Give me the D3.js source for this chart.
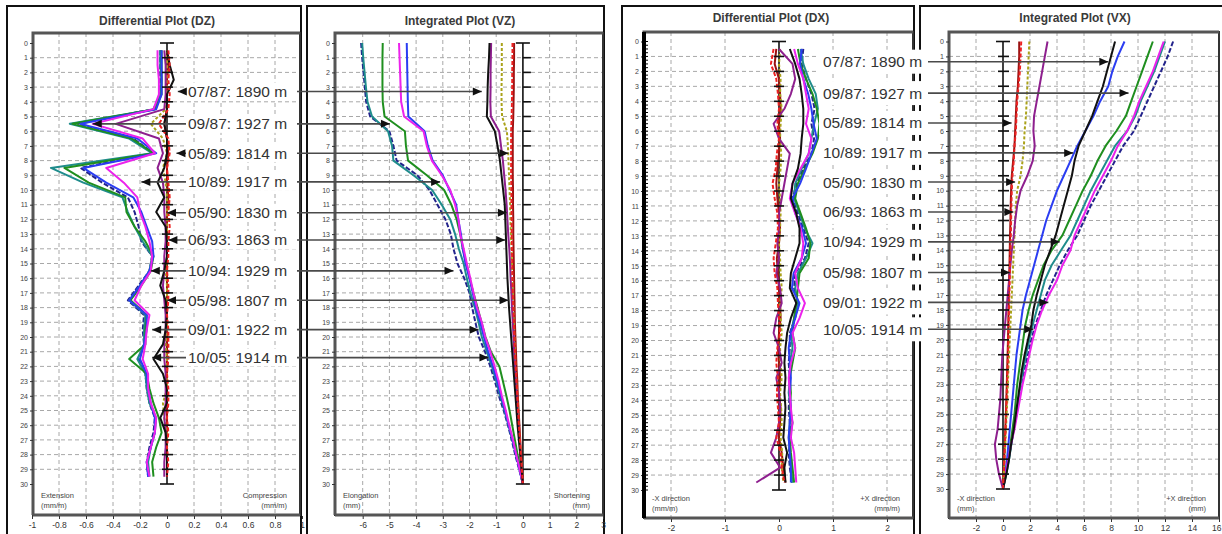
<!DOCTYPE html>
<html>
<head>
<meta charset="utf-8">
<script src="https://cdn.jsdelivr.net/npm/d3@7"></script>
<style>
  body { margin: 0; background: #fff; }
  svg { display: block; font-family: "Liberation Sans", Arial, sans-serif; }
</style>
</head>
<body>
<svg id="chart" width="1222" height="534"></svg>
<script>
// depth stations (m) - differential readings sit between stations
const diffDepth = [0.5,1.5,2.5,3.5,4.5,5.5,6.5,7.5,8.5,9.5,10.5,11.5,12.5,13.5,14.5,15.5,16.5,17.5,18.5,19.5,20.5,21.5,22.5,23.5,24.5,25.5,26.5,27.5,28.5,29.5];
const intDepth = [0,1,2,3,4,5,6,7,8,9,10,11,12,13,14,15,16,17,18,19,20,21,22,23,24,25,26,27,28,29,30];

// x tick labels
const dzTicks = [-1,-0.8,-0.6,-0.4,-0.2,0,0.2,0.4,0.6,0.8,1];
const vzTicks = [-6,-5,-4,-3,-2,-1,0,1,2,3];
const dxTicks = [-2,-1,0,1,2];
const vxTicks = [-2,0,2,4,6,8,10,12,14,16];

// Differential plot DZ (mm/m)
const dzNavy    = [-0.05,-0.05,-0.05,-0.05,-0.10,-0.66,-0.25,-0.10,-0.64,-0.48,-0.29,-0.24,-0.21,-0.19,-0.11,-0.13,-0.21,-0.29,-0.17,-0.18,-0.17,-0.21,-0.16,-0.15,-0.13,-0.09,-0.10,-0.13,-0.15,-0.14];
const dzTeal    = [-0.05,-0.05,-0.04,-0.05,-0.09,-0.72,-0.28,-0.11,-0.86,-0.62,-0.33,-0.29,-0.24,-0.18,-0.11,-0.13,-0.20,-0.28,-0.16,-0.17,-0.17,-0.22,-0.16,-0.15,-0.13,-0.08,-0.09,-0.12,-0.14,-0.13];
const dzGreen   = [-0.04,-0.04,-0.04,-0.04,-0.09,-0.70,-0.26,-0.10,-0.76,-0.58,-0.31,-0.30,-0.24,-0.16,-0.10,-0.12,-0.19,-0.27,-0.15,-0.16,-0.16,-0.28,-0.15,-0.13,-0.10,-0.06,-0.04,-0.08,-0.11,-0.10];
const dzBlue    = [-0.04,-0.04,-0.04,-0.04,-0.08,-0.64,-0.22,-0.08,-0.62,-0.45,-0.25,-0.19,-0.15,-0.11,-0.10,-0.13,-0.20,-0.28,-0.15,-0.15,-0.17,-0.20,-0.15,-0.14,-0.12,-0.09,-0.09,-0.12,-0.15,-0.14];
const dzMagenta = [-0.07,-0.07,-0.06,-0.06,-0.10,-0.55,-0.18,-0.09,-0.45,-0.32,-0.22,-0.20,-0.16,-0.13,-0.11,-0.12,-0.19,-0.24,-0.13,-0.15,-0.16,-0.18,-0.14,-0.14,-0.12,-0.08,-0.09,-0.12,-0.15,-0.13];
const dzPurple  = [-0.02,-0.01,-0.01,-0.01,-0.02,-0.38,-0.06,-0.03,-0.07,-0.03,-0.02,-0.02,-0.01,-0.01,-0.02,-0.02,-0.03,-0.02,-0.01,-0.01,-0.02,-0.02,-0.01,-0.01,-0.01,-0.02,-0.01,-0.01,-0.02,-0.02];
const dzOlive   = [0.00,0.00,0.00,0.00,-0.01,-0.12,-0.03,0.00,-0.03,-0.01,0.00,0.00,0.00,0.00,0.00,-0.01,0.00,0.00,0.00,0.00,-0.01,0.00,0.00,0.00,-0.03,-0.02,0.00,0.00,0.00,0.00];
const dzRed     = [0.01,0.02,0.01,0.02,0.01,-0.06,0.01,0.02,0.00,0.01,0.02,0.01,0.02,0.01,0.01,0.00,0.01,0.01,0.00,0.01,0.01,0.01,0.00,0.01,0.01,0.00,0.01,0.00,0.01,0.00];
const dzDarkred = [0.00,0.01,0.00,0.00,0.00,-0.02,0.00,0.01,0.00,0.00,0.01,0.00,0.00,0.00,0.00,0.00,0.00,0.00,0.00,0.00,0.00,0.00,0.00,0.00,0.00,0.00,0.00,0.00,0.00,0.00];
const dzBlack   = [0.00,0.02,0.05,0.00,0.00,-0.02,0.00,0.00,-0.02,-0.07,-0.02,-0.08,-0.01,0.00,0.00,-0.02,-0.05,-0.01,0.00,-0.01,-0.03,-0.10,-0.03,0.00,0.00,-0.05,-0.01,0.00,0.00,0.00];

// Integrated plot VZ (mm)
const vzNavy    = [-6.06,-6.02,-5.97,-5.92,-5.87,-5.72,-5.0,-4.85,-4.73,-3.95,-3.5,-3.2,-2.9,-2.7,-2.6,-2.45,-2.2,-2.0,-1.9,-1.78,-1.65,-1.42,-1.22,-1.05,-0.9,-0.72,-0.56,-0.42,-0.29,-0.14,0];
const vzTeal    = [-6.02,-5.98,-5.93,-5.88,-5.82,-5.65,-5.05,-4.9,-4.85,-4.1,-3.4,-3.04,-2.72,-2.54,-2.4,-2.22,-2.1,-1.97,-1.8,-1.66,-1.54,-1.35,-1.16,-1.0,-0.85,-0.69,-0.54,-0.39,-0.25,-0.12,0];
const vzGreen   = [-5.25,-5.26,-5.26,-5.26,-5.25,-5.18,-4.42,-4.38,-4.3,-3.6,-2.95,-2.68,-2.48,-2.35,-2.25,-2.12,-2.0,-1.85,-1.7,-1.55,-1.4,-1.2,-0.88,-0.75,-0.62,-0.5,-0.4,-0.3,-0.2,-0.1,0];
const vzBlue    = [-4.35,-4.34,-4.33,-4.32,-4.31,-4.29,-3.68,-3.56,-3.38,-3.0,-2.75,-2.5,-2.42,-2.32,-2.25,-2.15,-2.0,-1.88,-1.76,-1.6,-1.46,-1.3,-1.12,-0.96,-0.82,-0.67,-0.53,-0.39,-0.26,-0.13,0];
const vzMagenta = [-4.64,-4.62,-4.6,-4.58,-4.56,-4.45,-3.72,-3.6,-3.41,-3.04,-2.72,-2.54,-2.41,-2.35,-2.22,-2.1,-1.97,-1.85,-1.72,-1.54,-1.41,-1.22,-1.06,-0.91,-0.79,-0.64,-0.51,-0.37,-0.25,-0.12,0];
const vzPurple  = [-1.19,-1.2,-1.21,-1.21,-1.22,-1.2,-0.89,-0.82,-0.75,-0.7,-0.65,-0.61,-0.58,-0.55,-0.51,-0.48,-0.46,-0.43,-0.41,-0.38,-0.35,-0.33,-0.3,-0.27,-0.24,-0.21,-0.17,-0.13,-0.09,-0.05,0];
const vzOlive   = [-0.79,-0.79,-0.79,-0.8,-0.8,-0.78,-0.6,-0.56,-0.54,-0.52,-0.5,-0.48,-0.47,-0.45,-0.43,-0.41,-0.4,-0.38,-0.36,-0.34,-0.32,-0.3,-0.28,-0.25,-0.22,-0.19,-0.16,-0.12,-0.08,-0.04,0];
const vzRed     = [-0.39,-0.39,-0.4,-0.4,-0.41,-0.42,-0.44,-0.44,-0.44,-0.44,-0.43,-0.43,-0.42,-0.42,-0.41,-0.4,-0.39,-0.38,-0.36,-0.34,-0.32,-0.3,-0.27,-0.24,-0.21,-0.18,-0.15,-0.11,-0.08,-0.04,0];
const vzDarkred = [-0.33,-0.33,-0.34,-0.34,-0.35,-0.36,-0.38,-0.38,-0.38,-0.38,-0.37,-0.37,-0.36,-0.36,-0.35,-0.34,-0.33,-0.32,-0.31,-0.3,-0.28,-0.26,-0.24,-0.21,-0.19,-0.16,-0.13,-0.1,-0.07,-0.03,0];
const vzBlack   = [-1.25,-1.27,-1.3,-1.32,-1.33,-1.35,-1.05,-0.95,-0.86,-0.8,-0.74,-0.68,-0.66,-0.64,-0.62,-0.6,-0.58,-0.55,-0.52,-0.48,-0.44,-0.4,-0.36,-0.32,-0.28,-0.24,-0.2,-0.15,-0.1,-0.05,0];

// Differential plot DX (mm/m)
const dxNavy    = [0.45,0.42,0.5,0.6,0.66,0.6,0.65,0.6,0.45,0.33,0.25,0.35,0.45,0.55,0.48,0.3,0.28,0.36,0.3,0.2,0.2,0.18,0.2,0.2,0.18,0.2,0.22,0.18,0.2,0.24];
const dxTeal    = [0.4,0.45,0.55,0.68,0.72,0.65,0.6,0.55,0.42,0.3,0.28,0.38,0.48,0.62,0.5,0.35,0.3,0.35,0.28,0.22,0.25,0.2,0.2,0.18,0.22,0.2,0.18,0.2,0.22,0.25];
const dxGreen   = [0.35,0.4,0.5,0.62,0.7,0.75,0.72,0.62,0.48,0.35,0.3,0.4,0.5,0.58,0.55,0.38,0.35,0.32,0.28,0.25,0.3,0.25,0.2,0.22,0.2,0.25,0.2,0.22,0.25,0.28];
const dxBlue    = [0.42,0.39,0.45,0.54,0.6,0.64,0.7,0.6,0.5,0.39,0.25,0.3,0.43,0.5,0.42,0.27,0.24,0.38,0.3,0.22,0.18,0.2,0.22,0.2,0.22,0.2,0.18,0.2,0.22,0.22];
const dxMagenta = [0.28,0.35,0.45,0.5,0.55,0.5,0.6,0.55,0.4,0.25,0.2,0.3,0.4,0.45,0.42,0.3,0.35,0.48,0.38,0.25,0.3,0.22,0.18,0.2,0.22,0.25,0.22,0.28,0.3,0.32];
const dxPurple  = [0.0,0.25,0.3,0.22,0.1,-0.1,0.0,0.2,0.15,0.1,0.05,0.0,0.0,-0.03,0.0,-0.05,0.02,0.05,-0.05,-0.1,0.0,0.05,-0.05,0.0,0.02,0.0,-0.05,-0.15,0.02,-0.42];
const dxOlive   = [0.02,0.0,0.03,0.02,0.05,0.03,0.02,0.04,0.03,0.0,0.02,0.03,0.02,0.0,0.02,0.03,0.05,0.02,0.03,0.05,0.02,0.03,0.05,0.02,0.04,0.05,0.03,0.06,0.05,0.08];
const dxRed     = [-0.1,-0.15,-0.05,-0.02,0.0,-0.03,0.0,-0.04,-0.06,-0.12,-0.08,-0.03,-0.02,-0.06,-0.1,-0.08,-0.03,-0.02,0.0,0.02,-0.03,-0.05,-0.02,-0.04,-0.02,0.0,-0.05,0.03,0.05,0.1];
const dxDarkred = [-0.05,-0.08,0.0,0.02,0.03,0.0,0.02,0.0,-0.03,-0.05,-0.03,0.0,0.02,0.0,-0.04,-0.02,0.0,0.02,0.03,0.0,-0.02,0.0,0.02,0.0,0.03,0.02,0.0,0.05,0.08,0.12];
const dxBlack   = [0.2,0.3,0.38,0.42,0.45,0.45,0.42,0.4,0.35,0.25,0.22,0.32,0.38,0.38,0.3,0.22,0.2,0.32,0.22,0.15,0.12,0.1,0.12,0.1,0.12,0.1,0.08,0.15,0.1,0.12];

// Integrated plot VX (mm)
const vxNavy    = [12.6,12.2,11.7,11.2,10.7,10.2,9.7,8.9,8.3,7.7,7.1,6.5,6.0,5.5,4.8,4.2,3.7,3.2,2.8,2.4,2.1,1.85,1.6,1.4,1.2,1.0,0.8,0.6,0.42,0.2,0];
const vxTeal    = [12.0,11.6,11.2,10.7,10.2,9.8,9.2,8.3,7.7,7.1,6.5,6.0,5.5,5.0,4.3,3.6,3.1,2.8,2.5,2.2,1.95,1.7,1.5,1.3,1.15,1.0,0.8,0.62,0.45,0.25,0];
const vxGreen   = [11.1,10.7,10.3,9.9,9.5,9.1,8.4,7.6,7.0,6.5,5.9,5.4,4.9,4.4,3.6,3.0,2.6,2.2,1.9,1.65,1.5,1.35,1.2,1.05,0.95,0.85,0.7,0.55,0.4,0.2,0];
const vxBlue    = [9.0,8.5,8.1,7.8,7.2,6.7,6.1,5.5,5.0,4.5,4.0,3.6,3.2,2.9,2.6,2.3,2.0,1.7,1.45,1.3,1.15,1.0,0.9,0.8,0.7,0.6,0.5,0.4,0.3,0.15,0];
const vxMagenta = [11.9,11.5,11.1,10.6,10.1,9.7,9.2,8.5,8.0,7.4,6.8,6.3,5.8,5.3,5.0,4.4,4.0,3.4,2.9,2.5,2.2,1.95,1.7,1.45,1.25,1.05,0.85,0.6,0.4,0.2,0];
const vxPurple  = [3.3,3.1,2.9,2.7,2.5,2.3,2.25,2.35,2.2,1.8,1.3,1.05,0.9,0.8,0.65,0.55,0.45,0.35,0.25,0.15,0.05,-0.05,-0.1,-0.15,-0.2,-0.3,-0.4,-0.6,-0.5,-0.3,0];
const vxOlive   = [1.95,1.9,1.85,1.8,1.75,1.7,1.6,1.55,1.45,1.3,1.05,0.95,0.9,0.85,0.8,0.75,0.7,0.65,0.6,0.55,0.5,0.45,0.4,0.36,0.32,0.27,0.22,0.17,0.12,0.06,0];
const vxRed     = [1.35,1.3,1.25,1.15,1.05,1.0,0.95,0.85,0.8,0.7,0.65,0.62,0.6,0.58,0.55,0.52,0.5,0.47,0.44,0.42,0.4,0.37,0.34,0.3,0.27,0.23,0.19,0.15,0.1,0.05,0];
const vxDarkred = [1.2,1.2,1.15,1.1,1.0,0.95,0.9,0.85,0.75,0.65,0.6,0.57,0.55,0.52,0.5,0.48,0.45,0.43,0.41,0.39,0.37,0.34,0.31,0.28,0.25,0.21,0.17,0.13,0.09,0.05,0];
const vxBlack   = [8.3,8.0,7.7,7.4,7.0,6.6,6.1,5.6,5.3,5.1,4.8,4.5,4.2,3.9,3.5,3.1,2.8,2.5,2.25,2.1,1.85,1.6,1.4,1.25,1.1,0.95,0.8,0.6,0.45,0.25,0];

// survey labels and their arrow marks
const surveyLabels = ["07/87: 1890 m","09/87: 1927 m","05/89: 1814 m","10/89: 1917 m","05/90: 1830 m","06/93: 1863 m","10/94: 1929 m","05/98: 1807 m","09/01: 1922 m","10/05: 1914 m"];
const leftLabelDepth  = [3.3,5.5,7.5,9.45,11.55,13.4,15.5,17.5,19.5,21.4];
const dzArrowAt       = [0.08,-0.55,0.07,-0.19,0.0,0.01,-0.12,0.0,-0.11,-0.11];
const vzArrowAt       = [-1.54,-4.98,-0.54,-3.1,-0.6,-0.66,-2.6,-0.54,-1.66,-1.29];
const rightLabelDepth = [1.35,3.45,5.45,7.45,9.4,11.4,13.4,15.45,17.45,19.25];
const vxArrowAt       = [7.8,9.3,0.64,5.2,0.9,0.77,4.2,0.52,3.36,2.25];

// colours of the surveys
const colors = {
  navy: "#23238c", teal: "#1f8c8c", green: "#1f8f1f", blue: "#2b3df2", magenta: "#ec22ec",
  purple: "#8e1f8e", olive: "#aaa21a", red: "#ee2222", darkred: "#9a1212", black: "#111111"
};
const dashes = { navy: "5,2", red: "4,2", olive: "3,2" };
const order = ["navy","teal","green","blue","magenta","darkred","olive","purple","black","red"];

const svg = d3.select("#chart");

// outer boxes
const boxes = [[7,301],[307,604],[622,914],[920,1224]];
svg.selectAll("rect.box").data(boxes).join("rect")
  .attr("class", "box")
  .attr("x", d => d[0]).attr("y", 6)
  .attr("width", d => d[1] - d[0]).attr("height", 560)
  .attr("fill", "none").attr("stroke", "#111").attr("stroke-width", 2);

function drawPanel(p) {
  const x = d3.scaleLinear().domain(p.xDomain).range(p.xRange);
  const y = d3.scaleLinear().domain([0, 30]).range(p.yRange);
  const g = svg.append("g");
  const f = p.frame;

  // title
  g.append("text")
    .attr("x", p.titleX).attr("y", p.titleY)
    .attr("text-anchor", "middle").attr("dominant-baseline", "central")
    .attr("font-size", 12).attr("font-weight", "bold").attr("fill", "#3a3a3a")
    .text(p.title);

  // grid
  g.append("g").selectAll("line")
    .data(intDepth.filter(d => d > 0 && d < 30)).join("line")
    .attr("x1", f[0]).attr("x2", f[2])
    .attr("y1", d => y(d)).attr("y2", d => y(d))
    .attr("stroke", "#a8a8a8").attr("stroke-dasharray", "4,3");
  g.append("g").selectAll("line")
    .data(p.grid).join("line")
    .attr("x1", d => x(d)).attr("x2", d => x(d))
    .attr("y1", f[1]).attr("y2", f[3])
    .attr("stroke", "#a8a8a8").attr("stroke-dasharray", "4,3");

  // corner notes
  const notes = g.append("g").attr("font-size", 7.5).attr("fill", "#444");
  notes.append("text").attr("x", f[0] + 8).attr("y", f[3] - 17).text(p.noteLeft);
  notes.append("text").attr("x", f[0] + 8).attr("y", f[3] - 7).text(p.unit);
  notes.append("text").attr("x", f[2] - 13).attr("y", f[3] - 17).attr("text-anchor", "end").text(p.noteRight);
  notes.append("text").attr("x", f[2] - 13).attr("y", f[3] - 7).attr("text-anchor", "end").text(p.unit);

  // zero axis with depth ticks
  const x0 = x(0);
  g.append("line").attr("x1", x0).attr("x2", x0).attr("y1", y(0)).attr("y2", y(30))
    .attr("stroke", "#111").attr("stroke-width", 1.6);

  // survey curves
  const line = d3.line().x(d => x(d[1])).y(d => y(d[0]));
  order.forEach(k => {
    const vals = p.series[k];
    g.append("path")
      .datum(p.depth.map((d, i) => [d, vals[i]]))
      .attr("d", line)
      .attr("fill", "none")
      .attr("stroke", colors[k])
      .attr("stroke-width", 2)
      .attr("stroke-dasharray", dashes[k] || null)
      .attr("stroke-linejoin", "round");
  });

  g.append("g").selectAll("line")
    .data(intDepth).join("line")
    .attr("x1", d => x0 + (d === 0 || d === 30 ? -7 : p.tickL))
    .attr("x2", d => x0 + (d === 0 || d === 30 ? 7 : p.tickR))
    .attr("y1", d => y(d)).attr("y2", d => y(d))
    .attr("stroke", "#111").attr("stroke-width", 1.6);

  // plot frame
  g.append("rect")
    .attr("x", f[0]).attr("y", f[1]).attr("width", f[2] - f[0]).attr("height", f[3] - f[1])
    .attr("fill", "none").attr("stroke", "#333").attr("stroke-width", 2);
  g.append("path")
    .attr("d", `M${f[0]},${f[3]}V${f[1]}H${f[2]}M${f[0]},${f[3]}H${f[2]}`)
    .attr("fill", "none").attr("stroke", "#555").attr("stroke-width", 3);

  // axes
  const xAxis = g.append("g")
    .attr("transform", `translate(0,${f[3] + 1})`)
    .call(d3.axisBottom(x).tickValues(p.ticks).tickSize(3).tickPadding(3).tickFormat(d => String(d)));
  xAxis.select(".domain").remove();
  xAxis.selectAll("text").attr("font-size", 8.5).attr("fill", "#333");
  xAxis.selectAll("line").attr("stroke", "#333");
  if (p.lastTickEnd) {
    xAxis.selectAll(".tick:last-of-type text").attr("text-anchor", "end").attr("dx", 2);
  }

  const yAxis = g.append("g")
    .attr("transform", `translate(${f[0]},0)`)
    .call(d3.axisLeft(y).tickValues(intDepth).tickSize(3).tickPadding(2));
  yAxis.select(".domain").remove();
  yAxis.selectAll("text").attr("font-size", 7).attr("fill", "#444");
  yAxis.selectAll("line").attr("stroke", "#333");

  if (p.ruler) {
    g.append("line").attr("x1", f[0]).attr("x2", f[0]).attr("y1", f[1]).attr("y2", f[3])
      .attr("stroke", "#000").attr("stroke-width", 4);
    g.append("g").selectAll("line")
      .data(d3.range(0, 30.01, 0.25)).join("line")
      .attr("x1", f[0]).attr("x2", f[0] + 4)
      .attr("y1", d => y(d)).attr("y2", d => y(d))
      .attr("stroke", "#000");
  }
  return { x, y };
}

const pDZ = drawPanel({
  title: "Differential Plot (DZ)", titleX: 157, titleY: 21,
  xDomain: [-1, 1], xRange: [32, 302], yRange: [43, 484], frame: [33, 33, 300, 515],
  ticks: dzTicks, grid: [-0.8,-0.6,-0.4,-0.2,0.2,0.4,0.6,0.8], depth: diffDepth,
  noteLeft: "Extension", noteRight: "Compression", unit: "(mm/m)", tickL: -5, tickR: 6,
  series: { navy: dzNavy, teal: dzTeal, green: dzGreen, blue: dzBlue, magenta: dzMagenta,
            purple: dzPurple, olive: dzOlive, red: dzRed, darkred: dzDarkred, black: dzBlack }
});
const pVZ = drawPanel({
  title: "Integrated Plot (VZ)", titleX: 460, titleY: 21,
  xDomain: [-7, 3], xRange: [336, 603], yRange: [43, 484], frame: [335, 33, 603, 515],
  ticks: vzTicks, grid: [-6,-5,-4,-3,-2,-1,1,2], depth: intDepth,
  noteLeft: "Elongation", noteRight: "Shortening", unit: "(mm)", tickL: 0, tickR: 8,
  series: { navy: vzNavy, teal: vzTeal, green: vzGreen, blue: vzBlue, magenta: vzMagenta,
            purple: vzPurple, olive: vzOlive, red: vzRed, darkred: vzDarkred, black: vzBlack }
});
const pDX = drawPanel({
  title: "Differential Plot (DX)", titleX: 771, titleY: 18,
  xDomain: [-2.5, 2.5], xRange: [644, 914], yRange: [41.5, 490], frame: [644, 32, 913, 518],
  ticks: dxTicks, grid: [-2,-1,1,2], depth: diffDepth, ruler: true,
  noteLeft: "-X direction", noteRight: "+X direction", unit: "(mm/m)", tickL: -5, tickR: 5,
  series: { navy: dxNavy, teal: dxTeal, green: dxGreen, blue: dxBlue, magenta: dxMagenta,
            purple: dxPurple, olive: dxOlive, red: dxRed, darkred: dxDarkred, black: dxBlack }
});
const pVX = drawPanel({
  title: "Integrated Plot (VX)", titleX: 1075, titleY: 18,
  xDomain: [-4, 16], xRange: [949, 1219], yRange: [41.5, 489], frame: [949, 32, 1219, 518],
  ticks: vxTicks, grid: [-2,2,4,6,8,10,12,14], depth: intDepth, lastTickEnd: true,
  noteLeft: "-X direction", noteRight: "+X direction", unit: "(mm)", tickL: -5, tickR: 6,
  series: { navy: vxNavy, teal: vxTeal, green: vxGreen, blue: vxBlue, magenta: vxMagenta,
            purple: vxPurple, olive: vxOlive, red: vxRed, darkred: vxDarkred, black: vxBlack }
});

function arrow(xTip, yc, dir) {
  return `M${xTip},${yc}L${xTip - dir * 9},${yc - 4}L${xTip - dir * 9},${yc + 4}Z`;
}

// survey markers, left figure
const left = svg.append("g");
surveyLabels.forEach((lab, i) => {
  const yc = pDZ.y(leftLabelDepth[i]);
  const xa = pDZ.x(dzArrowAt[i]);
  const xb = pVZ.x(vzArrowAt[i]);
  left.append("line").attr("x1", xa).attr("x2", xb).attr("y1", yc).attr("y2", yc)
    .attr("stroke", "#4a4a4a").attr("stroke-width", 1.6);
  left.append("rect").attr("x", 186).attr("y", yc - 9).attr("width", 111).attr("height", 18).attr("fill", "#fff");
  left.append("text").attr("x", 188).attr("y", yc).attr("dominant-baseline", "central")
    .attr("font-size", 15.5).attr("fill", "#333").text(lab);
  left.append("path").attr("d", arrow(xa, yc, -1)).attr("fill", "#111");
  left.append("path").attr("d", arrow(xb, yc, 1)).attr("fill", "#111");
});

// survey markers, right figure
const right = svg.append("g");
surveyLabels.forEach((lab, i) => {
  const yc = pDX.y(rightLabelDepth[i]);
  const xb = pVX.x(vxArrowAt[i]);
  right.append("rect").attr("x", 819).attr("y", yc - 12).attr("width", 112).attr("height", 24).attr("fill", "#fff");
  right.append("line").attr("x1", 928).attr("x2", xb).attr("y1", yc).attr("y2", yc)
    .attr("stroke", "#4a4a4a").attr("stroke-width", 1.6);
  right.append("text").attr("x", 823).attr("y", yc).attr("dominant-baseline", "central")
    .attr("font-size", 15.5).attr("fill", "#333").text(lab);
  right.append("path").attr("d", arrow(xb, yc, 1)).attr("fill", "#111");
});
</script>
</body>
</html>
